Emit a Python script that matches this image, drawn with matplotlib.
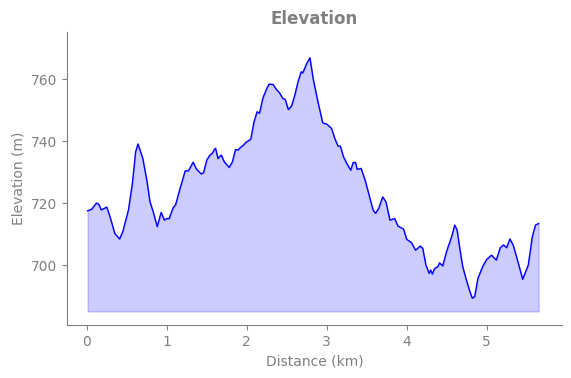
import matplotlib
matplotlib.use("Agg")
import matplotlib.pyplot as plt

distance_km = [0.01, 0.06, 0.12, 0.15, 0.18, 0.25, 0.29, 0.35, 0.41, 0.45, 0.52, 0.57, 0.61, 0.64,
               0.70, 0.75, 0.79, 0.83, 0.88, 0.93, 0.97, 1.00, 1.03, 1.08, 1.11, 1.16, 1.23, 1.27,
               1.33, 1.37, 1.43, 1.46, 1.50, 1.54, 1.57, 1.59, 1.61, 1.64, 1.68, 1.72, 1.78, 1.82,
               1.86, 1.89, 1.93, 1.95, 1.99, 2.05, 2.09, 2.13, 2.16, 2.20, 2.25, 2.28, 2.33, 2.37,
               2.41, 2.45, 2.48, 2.52, 2.56, 2.60, 2.64, 2.68, 2.70, 2.75, 2.79, 2.83, 2.89, 2.95,
               3.00, 3.06, 3.10, 3.14, 3.17, 3.21, 3.25, 3.30, 3.33, 3.36, 3.38, 3.43, 3.48, 3.54,
               3.58, 3.61, 3.65, 3.70, 3.74, 3.79, 3.85, 3.89, 3.96, 4.00, 4.06, 4.11, 4.17, 4.20,
               4.24, 4.28, 4.30, 4.32, 4.35, 4.39, 4.41, 4.45, 4.50, 4.54, 4.57, 4.60, 4.63, 4.66,
               4.70, 4.74, 4.79, 4.82, 4.85, 4.89, 4.95, 5.00, 5.06, 5.12, 5.17, 5.21, 5.25, 5.29,
               5.33, 5.39, 5.45, 5.52, 5.57, 5.61, 5.65]
elevation_m = [717.5, 718.0, 720.0, 719.6, 717.8, 718.7, 715.6, 710.2, 708.4, 710.8, 717.7, 726.4,
               736.5, 739.1, 734.4, 727.4, 720.4, 717.2, 712.4, 717.0, 714.5, 715.0, 715.0, 718.5,
               719.4, 724.2, 730.4, 730.4, 733.2, 731.0, 729.4, 729.8, 733.9, 735.5, 736.1, 737.1,
               737.7, 734.4, 735.5, 733.3, 731.5, 733.3, 737.3, 737.1, 738.2, 738.5, 739.6, 740.6,
               746.2, 749.5, 749.0, 753.8, 757.0, 758.4, 758.3, 756.7, 755.6, 753.8, 753.5, 750.2,
               751.3, 754.8, 759.1, 762.4, 762.0, 765.1, 766.9, 760.2, 752.7, 745.9, 745.5, 744.1,
               740.9, 738.4, 738.4, 734.9, 732.8, 730.6, 733.1, 733.1, 730.9, 731.2, 727.4, 721.5,
               717.7, 716.7, 718.3, 722.0, 720.4, 714.5, 715.0, 712.6, 711.6, 708.3, 707.2, 704.8,
               706.1, 705.4, 700.0, 697.3, 698.4, 697.1, 698.9, 699.5, 700.7, 699.7, 704.5, 707.5,
               709.9, 712.9, 711.3, 705.9, 699.5, 695.7, 691.4, 689.3, 689.8, 695.7, 699.5, 701.8,
               703.2, 701.6, 705.6, 706.5, 705.6, 708.4, 706.5, 701.1, 695.4, 700.0, 709.1, 712.9,
               713.4]
fill_base_m = 685

gray = "#808080"
fig = plt.figure(figsize=(5.71, 3.78), dpi=100)
ax = fig.add_axes([0.117, 0.140, 0.867, 0.775])
ax.plot(distance_km, elevation_m, color="blue", lw=1.0)
ax.fill_between(distance_km, elevation_m, fill_base_m, color="blue", alpha=0.2)
ax.set_xlim(-0.25, 5.94)
ax.set_ylim(680.6, 775.2)
ax.set_xticks([0, 1, 2, 3, 4, 5])
ax.set_yticks([700, 720, 740, 760])
ax.set_title("Elevation", fontsize=12, fontweight="bold", color=gray)
ax.set_xlabel("Distance (km)", color=gray, fontsize=10)
ax.set_ylabel("Elevation (m)", color=gray, fontsize=10)
for s in ["top", "right"]:
    ax.spines[s].set_visible(False)
for s in ["left", "bottom"]:
    ax.spines[s].set_color(gray)
ax.tick_params(colors=gray, labelcolor=gray, labelsize=10)
fig.savefig("out.png", dpi=100)
